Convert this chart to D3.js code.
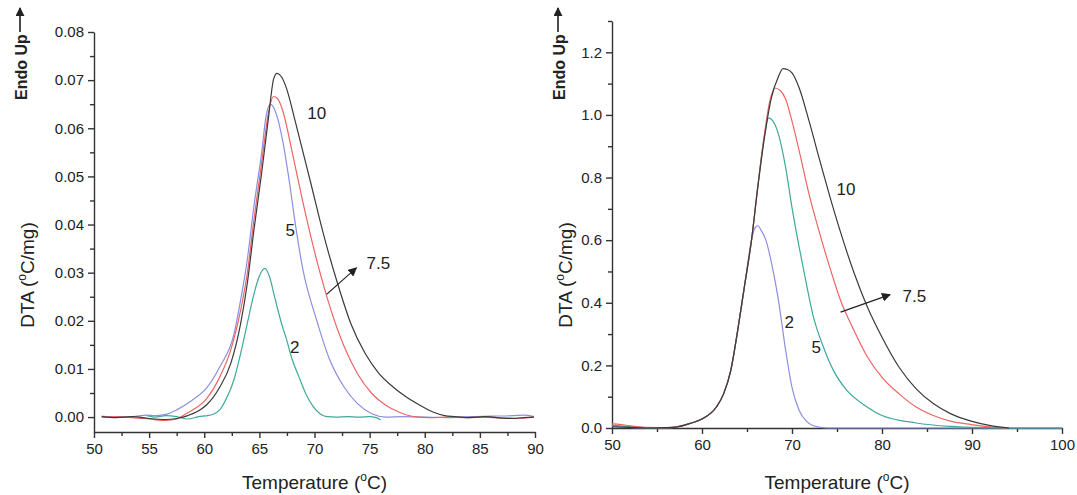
<!DOCTYPE html>
<html>
<head>
<meta charset="utf-8">
<script src="https://cdn.jsdelivr.net/npm/d3@7"></script>
<style>
  body { margin: 0; background: #fff; }
  text { font-family: "Liberation Sans", Arial, sans-serif; fill: #222; }
  .axis path, .axis line { stroke: #333; stroke-width: 1.4; }
</style>
</head>
<body>
<div id="chart"></div>
<script>
// ---- left panel (DTA, 0-0.08) ----
var leftTicksX = [50, 55, 60, 65, 70, 75, 80, 85, 90];
var leftTicksY = [0, 0.01, 0.02, 0.03, 0.04, 0.05, 0.06, 0.07, 0.08];
var leftTickLabelsY = ["0.00", "0.01", "0.02", "0.03", "0.04", "0.05", "0.06", "0.07", "0.08"];

var left10 = [[50.7,0.0001],[52,-0.0001],[53.5,0.0001],[55,-0.0003],[56.5,-0.0005],[57.5,-0.0003],[58.5,0.0003],[59.5,0.0013],[60.2,0.0025],[61.4,0.0062],[62.4,0.0111],[63.3,0.0194],[63.9,0.0277],[64.5,0.0388],[65.2,0.0506],[65.8,0.0617],[66.3,0.0703],[66.6,0.0714],[67.0,0.0707],[67.4,0.0687],[68.3,0.061],[69.6,0.0492],[70.8,0.0381],[72.1,0.0277],[73.3,0.0194],[74.6,0.0132],[75.8,0.0092],[77.1,0.0063],[78.3,0.0042],[79.6,0.0024],[80.8,0.001],[81.8,0.0003],[82.7,0.0001],[84,-0.0001],[85.5,0.0001],[87,-0.0002],[88,-0.0003],[89,-0.0001],[89.9,0]];
var left75 = [[50.7,0],[52,0.0001],[53.5,-0.0001],[55,-0.0004],[56.5,-0.0007],[57.5,-0.0004],[58.2,0.0005],[58.9,0.0014],[60.2,0.0038],[61.4,0.0083],[62.4,0.0139],[63.3,0.0222],[63.9,0.0298],[64.5,0.0409],[65.2,0.0527],[65.8,0.063],[66.3,0.0666],[66.7,0.066],[67.1,0.0638],[68.0,0.0548],[68.9,0.0451],[70.2,0.0326],[71.4,0.0229],[72.7,0.0146],[73.9,0.009],[75.2,0.0049],[76.5,0.0024],[77.7,0.001],[79.0,0.0001],[80.5,-0.0001],[82,0],[84,-0.0001],[85.5,0],[87,-0.0002],[88.5,-0.0002],[89.9,0]];
var left5 = [[50.7,0.0002],[52,0],[53.5,0.0001],[54.8,0.0004],[55.5,0.0003],[56.4,0.0005],[57.5,0.0015],[58.9,0.0035],[60.2,0.006],[61.4,0.0104],[62.7,0.0173],[63.3,0.0243],[63.9,0.0326],[64.5,0.0437],[65.2,0.0548],[65.6,0.0624],[66.0,0.065],[66.4,0.0638],[67.1,0.0576],[67.7,0.0492],[68.3,0.0395],[68.9,0.0312],[70.2,0.0201],[71.4,0.0118],[72.7,0.0062],[73.9,0.0028],[75.2,0.0007],[76.5,0],[78,0.0001],[80,0],[82,-0.0001],[84,0.0001],[86,0.0002],[88,0.0003],[89,0.0004],[89.9,0.0001]];
var left2 = [[54.8,0.0003],[55.5,0],[56.5,0.0003],[57.5,0.0001],[58.5,-0.0004],[59.5,0.0001],[60.3,0.0003],[60.8,0.0006],[61.4,0.0015],[62.0,0.0038],[62.7,0.0078],[63.3,0.0132],[63.9,0.0194],[64.5,0.0255],[65.0,0.0293],[65.5,0.0309],[65.9,0.0293],[66.4,0.0248],[67.0,0.0195],[67.4,0.0166],[68.0,0.0118],[68.6,0.0083],[69.2,0.0049],[69.9,0.0021],[70.5,0.0007],[71.1,0.0001],[72,0],[73,0.0001],[74,0],[75,0.0001],[75.6,-0.0001],[76,-0.0006]];

// ---- right panel (DTA, 0-1.3) ----
var rightTicksX = [50, 60, 70, 80, 90, 100];
var rightTicksY = [0, 0.2, 0.4, 0.6, 0.8, 1.0, 1.2];
var rightTickLabelsY = ["0.0", "0.2", "0.4", "0.6", "0.8", "1.0", "1.2"];

var right10 = [[50,0.004],[52,0.002],[54,0],[56,0.001],[57.1,0.003],[58.6,0.014],[60.1,0.03],[61.6,0.067],[62.4,0.109],[63.2,0.184],[63.9,0.30],[64.7,0.449],[65.5,0.60],[66.2,0.77],[66.9,0.92],[67.7,1.054],[68.5,1.123],[69.0,1.148],[69.5,1.145],[70.0,1.134],[70.8,1.086],[71.9,0.98],[73.1,0.853],[74.2,0.74],[75.4,0.625],[76.9,0.495],[78.4,0.385],[80.0,0.29],[81.9,0.194],[83.8,0.125],[85.7,0.078],[87.6,0.046],[89.9,0.022],[92.2,0.007],[94.1,0]];
var right75 = [[50,0.013],[51,0.011],[52,0.007],[53,0.004],[54,0.002],[56,0.001],[57.1,0.003],[58.6,0.014],[60.1,0.03],[61.6,0.067],[62.4,0.109],[63.2,0.184],[63.9,0.30],[64.7,0.449],[65.5,0.60],[66.2,0.77],[66.9,0.93],[67.5,1.04],[68.1,1.086],[68.7,1.078],[69.3,1.05],[70.0,0.98],[70.8,0.885],[71.9,0.746],[73.1,0.619],[74.2,0.513],[75.4,0.407],[76.9,0.311],[78.4,0.226],[80.0,0.162],[81.9,0.109],[83.8,0.067],[85.7,0.04],[87.6,0.022],[89.9,0.011],[92.2,0.003],[94.1,0]];
var right5 = [[50,0.009],[52,0.004],[54,0.001],[56,0.001],[57.1,0.003],[58.6,0.014],[60.1,0.03],[61.6,0.067],[62.4,0.109],[63.2,0.184],[63.9,0.30],[64.7,0.449],[65.5,0.60],[66.2,0.77],[66.8,0.91],[67.4,0.99],[68.0,0.975],[68.5,0.938],[69.3,0.831],[70.0,0.704],[70.8,0.577],[71.6,0.46],[72.3,0.364],[73.5,0.258],[74.6,0.184],[76.1,0.12],[78.1,0.072],[80.0,0.04],[83.8,0.016],[87.6,0.005],[91.4,0.001],[94.1,0],[100,0]];
var right2 = [[50,0.005],[52,0.002],[54,0],[56,0.001],[57.1,0.003],[58.6,0.014],[60.1,0.03],[61.6,0.067],[62.4,0.109],[63.2,0.184],[63.9,0.30],[64.7,0.449],[65.5,0.60],[65.9,0.64],[66.2,0.646],[66.6,0.63],[67.1,0.6],[67.7,0.53],[68.5,0.407],[69.3,0.247],[70.0,0.13],[70.8,0.056],[71.6,0.022],[72.3,0.008],[73.9,0],[100,0]];

var cBlack = "#3a3a3a", cRed = "#ee6464", cBlue = "#8c8fde", cTeal = "#3ea99a";

var svg = d3.select("#chart").append("svg")
    .attr("width", 1077)
    .attr("height", 495);

svg.append("defs").append("marker")
    .attr("id", "arr")
    .attr("viewBox", "0 0 10 10")
    .attr("refX", 9).attr("refY", 5)
    .attr("markerWidth", 9).attr("markerHeight", 9)
    .attr("markerUnits", "userSpaceOnUse")
    .attr("orient", "auto")
    .append("path")
    .attr("d", "M0,0 L10,5 L0,10 Z")
    .attr("fill", "#222");

function panel(opt) {
    var g = svg.append("g");
    var x = d3.scaleLinear().domain(opt.xDomain).range(opt.xRange);
    var y = d3.scaleLinear().domain(opt.yDomain).range(opt.yRange);

    // minor ticks
    g.append("g").attr("class", "axis")
        .attr("transform", "translate(0," + opt.yRange[0] + ")")
        .call(d3.axisBottom(x).tickValues(opt.minorX).tickSize(4).tickFormat(""))
        .select(".domain").remove();
    g.append("g").attr("class", "axis")
        .attr("transform", "translate(" + opt.xRange[0] + ",0)")
        .call(d3.axisLeft(y).tickValues(opt.minorY).tickSize(4).tickFormat(""))
        .select(".domain").remove();

    // major ticks
    var xa = g.append("g").attr("class", "axis")
        .attr("transform", "translate(0," + opt.yRange[0] + ")")
        .call(d3.axisBottom(x).tickValues(opt.ticksX).tickSize(6).tickSizeOuter(0).tickPadding(5));
    var ya = g.append("g").attr("class", "axis")
        .attr("transform", "translate(" + opt.xRange[0] + ",0)")
        .call(d3.axisLeft(y).tickValues(opt.ticksY).tickSize(6).tickSizeOuter(0).tickPadding(4)
            .tickFormat(function (d, i) { return opt.labelsY[i]; }));
    xa.selectAll("text").style("font-size", "15px").style("font-family", "Liberation Sans, Arial, sans-serif");
    ya.selectAll("text").style("font-size", "15px").style("font-family", "Liberation Sans, Arial, sans-serif");

    var line = d3.line()
        .x(function (d) { return x(d[0]); })
        .y(function (d) { return y(d[1]); })
        .curve(d3.curveMonotoneX);

    opt.series.forEach(function (s) {
        g.append("path")
            .datum(s.data)
            .attr("d", line)
            .attr("fill", "none")
            .attr("stroke", s.color)
            .attr("stroke-width", 1.2);
    });

    opt.labels.forEach(function (l) {
        g.append("text")
            .attr("x", x(l[0])).attr("y", y(l[1]))
            .attr("text-anchor", "middle")
            .attr("dy", "0.35em")
            .style("font-size", "17px")
            .text(l[2]);
    });

    g.append("line")
        .attr("x1", x(opt.arrow[0])).attr("y1", y(opt.arrow[1]))
        .attr("x2", x(opt.arrow[2])).attr("y2", y(opt.arrow[3]))
        .attr("stroke", "#222").attr("stroke-width", 1.2)
        .attr("marker-end", "url(#arr)");

    // x title
    var xt = g.append("text")
        .attr("x", (opt.xRange[0] + opt.xRange[1]) / 2)
        .attr("y", opt.xTitleY)
        .attr("text-anchor", "middle")
        .style("font-size", "19px");
    xt.append("tspan").text("Temperature (");
    xt.append("tspan").attr("dy", -8).style("font-size", "12px").text("o");
    xt.append("tspan").attr("dy", 8).text("C)");

    // y title
    var yt = g.append("text")
        .attr("transform", "translate(" + opt.yTitleX + ",275) rotate(-90)")
        .attr("text-anchor", "middle")
        .attr("dy", "0.35em")
        .style("font-size", "19px");
    yt.append("tspan").text("DTA (");
    yt.append("tspan").attr("dy", -8).style("font-size", "12px").text("o");
    yt.append("tspan").attr("dy", 8).text("C/mg)");

    // "Endo Up" with arrow
    g.append("text")
        .attr("transform", "translate(" + opt.endoX + ",100) rotate(-90)")
        .attr("text-anchor", "start")
        .attr("dy", "0.35em")
        .style("font-size", "16px")
        .style("font-weight", "bold")
        .text("Endo Up");
    g.append("line")
        .attr("x1", opt.endoX - 1).attr("y1", 32)
        .attr("x2", opt.endoX - 1).attr("y2", 8)
        .attr("stroke", "#111").attr("stroke-width", 1.5)
        .attr("marker-end", "url(#arr)");
}

panel({
    xDomain: [50, 90], xRange: [94, 535],
    yDomain: [-0.0031, 0.08], yRange: [432, 32],
    ticksX: leftTicksX, minorX: [52.5, 57.5, 62.5, 67.5, 72.5, 77.5, 82.5, 87.5],
    ticksY: leftTicksY, labelsY: leftTickLabelsY,
    minorY: [0.005, 0.015, 0.025, 0.035, 0.045, 0.055, 0.065, 0.075],
    series: [
        { data: left2, color: cTeal },
        { data: left5, color: cBlue },
        { data: left75, color: cRed },
        { data: left10, color: cBlack }
    ],
    labels: [[70.2, 0.0631, "10"], [67.8, 0.0388, "5"], [68.2, 0.0146, "2"], [75.8, 0.0319, "7.5"]],
    arrow: [71.1, 0.0255, 73.8, 0.031],
    xTitleY: 489, yTitleX: 27, endoX: 21
});

panel({
    xDomain: [50, 100], xRange: [612, 1062],
    yDomain: [0, 1.3], yRange: [428, 21],
    ticksX: rightTicksX, minorX: [55, 65, 75, 85, 95],
    ticksY: rightTicksY, labelsY: rightTickLabelsY,
    minorY: [0.1, 0.3, 0.5, 0.7, 0.9, 1.1, 1.3],
    series: [
        { data: right2, color: cBlue },
        { data: right5, color: cTeal },
        { data: right75, color: cRed },
        { data: right10, color: cBlack }
    ],
    labels: [[76.0, 0.762, "10"], [69.7, 0.338, "2"], [72.7, 0.258, "5"], [83.6, 0.423, "7.5"]],
    arrow: [75.4, 0.37, 80.9, 0.426],
    xTitleY: 489, yTitleX: 565, endoX: 559
});
</script>
</body>
</html>
